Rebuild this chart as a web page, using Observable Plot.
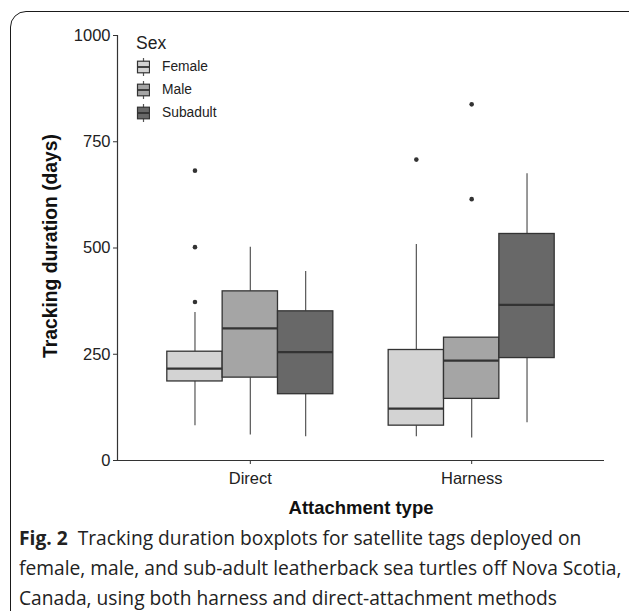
<!DOCTYPE html>
<html>
<head>
<meta charset="utf-8">
<script src="https://cdn.jsdelivr.net/npm/d3@7"></script>
<script src="https://cdn.jsdelivr.net/npm/@observablehq/plot@0.6"></script>
<style>
  html, body { margin: 0; padding: 0; background: #fff; overflow: hidden; }
  #page { position: relative; width: 629px; height: 611px; overflow: hidden; font-family: "Liberation Sans", Arial, sans-serif; }
  #border { position: absolute; left: 10px; top: 11px; width: 660px; height: 640px; border: 1.5px solid #1a1a1a; border-radius: 16px; box-sizing: border-box; }
  #chart { position: absolute; left: 0; top: 0; }
  #legend { position: absolute; left: 136px; top: 33px; color: #222; }
  #legend .title { font-size: 17.5px; line-height: 20px; height: 20px; margin-bottom: 2px; }
  #legend .item { display: flex; align-items: center; height: 23px; font-size: 13.8px; }
  #legend .item svg { margin-right: 12px; }
  #caption { position: absolute; left: 19px; top: 528px; font-family: "Open Sans", sans-serif; font-size: 20px; color: #222; white-space: nowrap; transform: scaleX(0.96); transform-origin: 0 0; }
  #caption div { line-height: 19px; height: 19px; margin-bottom: 11px; }
  #caption b { font-weight: 700; }
</style>
</head>
<body>
<div id="page">
  <div id="border"></div>
  <div id="chart"></div>
  <div id="legend"></div>
  <div id="caption">
    <div><b>Fig. 2</b>&nbsp; Tracking duration boxplots for satellite tags deployed on</div>
    <div>female, male, and sub-adult leatherback sea turtles off Nova Scotia,</div>
    <div>Canada, using both harness and direct-attachment methods</div>
  </div>
</div>
<script>
// ---- data ----
const groups = ["Direct", "Harness"];
const sexes = ["Female", "Male", "Subadult"];
const sexColors = ["#d3d3d3", "#a5a5a5", "#686868"];
// rows: groups; columns: sexes
const whiskerLow  = [[82, 60, 56],  [56, 53, 89]];
const q1          = [[186, 195, 156], [82, 145, 241]];
const median      = [[216, 311, 255], [122, 235, 366]];
const q3          = [[256, 398, 351], [260, 289, 533]];
const whiskerHigh = [[348, 502, 445], [508, 289, 675]];
const outlierGroup = ["Direct", "Direct", "Direct", "Harness", "Harness", "Harness"];
const outlierSex   = ["Female", "Female", "Female", "Female", "Male", "Male"];
const outlierValue = [373, 502, 682, 708, 615, 838];
const yTicks = [0, 250, 500, 750, 1000];
const xTitle = "Attachment type";
const yTitle = "Tracking duration (days)";
const legendTitle = "Sex";

// ---- build tables (ggplot-style dodge: width 0.75 per group) ----
const dodge = 0.75;
const boxW = dodge / sexes.length;
const pos = (g, s) => groups.indexOf(g) + 1 + (sexes.indexOf(s) - (sexes.length - 1) / 2) * boxW;
const boxes = [];
groups.forEach((g, gi) => sexes.forEach((s, si) => {
  const c = pos(g, s);
  boxes.push({group: g, sex: s, x: c, x1: c - boxW / 2, x2: c + boxW / 2,
    lo: whiskerLow[gi][si], q1: q1[gi][si], med: median[gi][si], q3: q3[gi][si], hi: whiskerHigh[gi][si]});
}));
const outliers = outlierValue.map((v, i) => ({x: pos(outlierGroup[i], outlierSex[i]), y: v}));
const xDomain = [0.4, groups.length + 0.6];

const chart = Plot.plot({
  width: 629,
  height: 520,
  marginLeft: 117,
  marginRight: 25,
  marginTop: 35,
  marginBottom: 60,
  style: {fontFamily: "Liberation Sans, Arial, sans-serif", fontSize: "16.5px", color: "#333", background: "transparent"},
  x: {domain: xDomain, axis: null},
  y: {domain: [0, 1000], axis: null},
  color: {domain: sexes, range: sexColors},
  marks: [
    // whiskers
    Plot.ruleX(boxes, {x: "x", y1: "lo", y2: "q1", stroke: "#555", strokeWidth: 1.2}),
    Plot.ruleX(boxes, {x: "x", y1: "q3", y2: "hi", stroke: "#555", strokeWidth: 1.2}),
    // boxes
    Plot.rect(boxes, {x1: "x1", x2: "x2", y1: "q1", y2: "q3", fill: "sex", stroke: "#333", strokeWidth: 1.3}),
    // medians
    Plot.ruleY(boxes, {x1: "x1", x2: "x2", y: "med", stroke: "#333", strokeWidth: 2.3}),
    // outliers
    Plot.dot(outliers, {x: "x", y: "y", r: 2.3, fill: "#333", stroke: null}),
    // axes
    Plot.ruleY([0], {stroke: "#333", strokeWidth: 1.2}),
    Plot.ruleX([xDomain[0]], {y1: 0, y2: 1000, stroke: "#333", strokeWidth: 1.2}),
    Plot.axisY({ticks: yTicks, tickFormat: d => String(d), tickSize: 4, tickPadding: 3, fontSize: 16.5, label: null, stroke: "#333", fill: "#222"}),
    Plot.axisX({ticks: groups.map((g, i) => i + 1), tickFormat: d => groups[d - 1], tickSize: 4, tickPadding: 8, fontSize: 16.5, label: null, stroke: "#333", fill: "#222"}),
    Plot.text([xTitle], {frameAnchor: "bottom", dy: 53.5, text: d => d, fontSize: 18.5, fontWeight: "bold", fill: "#111"}),
    Plot.text([yTitle], {frameAnchor: "left", dx: -67, dy: -2, rotate: -90, textAnchor: "middle", lineAnchor: "middle", text: d => d, fontSize: 19.3, fontWeight: "bold", fill: "#111"})
  ]
});
document.getElementById("chart").appendChild(chart);

// ---- legend ----
const legend = document.getElementById("legend");
const t = document.createElement("div");
t.className = "title";
t.textContent = legendTitle;
legend.appendChild(t);
sexes.forEach((s, i) => {
  const item = document.createElement("div");
  item.className = "item";
  item.innerHTML = `<svg width="14" height="20" viewBox="0 0 14 20">
    <line x1="7.5" x2="7.5" y1="1" y2="19" stroke="#555" stroke-width="1.2"/>
    <rect x="1.5" y="4.2" width="12" height="11.6" fill="${sexColors[i]}" stroke="#333" stroke-width="1.2"/>
    <line x1="1.5" x2="13.5" y1="10" y2="10" stroke="#333" stroke-width="1.8"/>
  </svg><span>${s}</span>`;
  legend.appendChild(item);
});
</script>
</body>
</html>
